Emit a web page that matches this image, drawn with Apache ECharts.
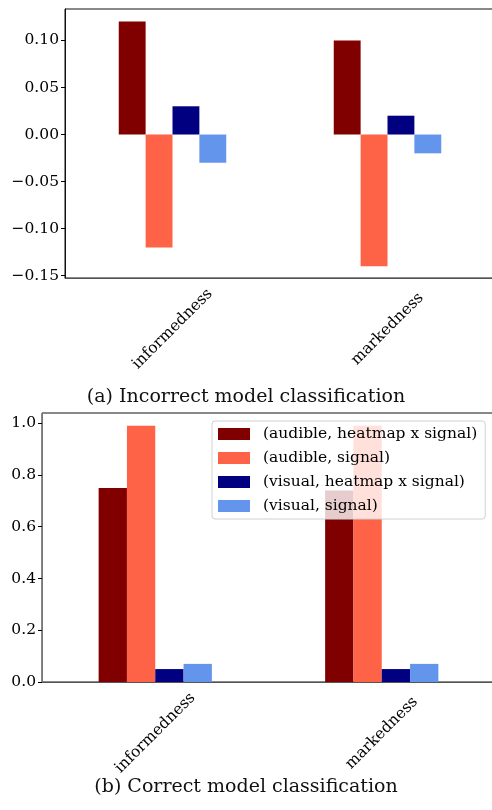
<!DOCTYPE html>
<html>
<head>
<meta charset="utf-8">
<script src="https://cdn.jsdelivr.net/npm/echarts@6/dist/echarts.min.js"></script>
<style>
html, body { margin: 0; padding: 0; background: #fff; }
#main { width: 492px; height: 810px; }
</style>
</head>
<body>
<div id="main"></div>
<script>
var categories = ['informedness', 'markedness'];
var seriesNames = ['(audible, heatmap x signal)', '(audible, signal)', '(visual, heatmap x signal)', '(visual, signal)'];
var colors = ['#800000', '#ff6347', '#000080', '#6495ed'];

// (a) incorrect model classification, one row per series
var incorrectValues = [
  [0.12, 0.10],
  [-0.12, -0.14],
  [0.03, 0.02],
  [-0.03, -0.02]
];
// (b) correct model classification
var correctValues = [
  [0.75, 0.74],
  [0.99, 0.99],
  [0.05, 0.05],
  [0.07, 0.07]
];
var incorrectTicks = [-0.15, -0.10, -0.05, 0.00, 0.05, 0.10];
var correctTicks = [0.0, 0.2, 0.4, 0.6, 0.8, 1.0];
var incorrectRange = [-0.1525, 0.1334];
var correctRange = [0, 1.0395];

var captions = ['(a) Incorrect model classification', '(b) Correct model classification'];

var FONT = 'DejaVu Serif';
var FS = 15.5;

var chart = echarts.init(document.getElementById('main'), null, { renderer: 'canvas' });

function fmtMinus(v, digits) {
  var s = Math.abs(v).toFixed(digits);
  return (v < -1e-9 ? '\u2212' : '') + s;
}

function xAxisFor(gridIndex) {
  return {
    type: 'category',
    gridIndex: gridIndex,
    data: categories,
    axisLine: { onZero: false, lineStyle: { color: '#555', width: 1 } },
    axisTick: { alignWithLabel: true, length: 4, lineStyle: { color: '#000' } },
    axisLabel: {
      rotate: 45,
      align: 'center',
      verticalAlign: 'middle',
      margin: 51,
      color: '#000',
      fontFamily: FONT,
      fontSize: FS
    }
  };
}

var series = [];
for (var i = 0; i < seriesNames.length; i++) {
  series.push({
    name: seriesNames[i],
    type: 'bar',
    xAxisIndex: 0,
    yAxisIndex: 0,
    data: incorrectValues[i],
    itemStyle: { color: colors[i] },
    barGap: '0%',
    barCategoryGap: '50%'
  });
}
for (var j = 0; j < seriesNames.length; j++) {
  series.push({
    name: seriesNames[j],
    type: 'bar',
    xAxisIndex: 1,
    yAxisIndex: 1,
    data: correctValues[j],
    itemStyle: { color: colors[j] },
    barGap: '0%',
    barCategoryGap: '50%'
  });
}

var option = {
  animation: false,
  backgroundColor: '#fff',
  color: colors,
  title: [
    {
      text: captions[0],
      left: 'center',
      top: 383,
      textStyle: { fontFamily: FONT, fontSize: 19, fontWeight: 'normal', color: '#111' }
    },
    {
      text: captions[1],
      left: 'center',
      top: 773,
      textStyle: { fontFamily: FONT, fontSize: 19, fontWeight: 'normal', color: '#111' }
    }
  ],
  legend: {
    data: seriesNames,
    orient: 'vertical',
    left: 212,
    top: 421,
    padding: [5, 8, 5, 6],
    itemWidth: 32,
    itemHeight: 12,
    itemGap: 8,
    icon: 'rect',
    backgroundColor: 'rgba(255,255,255,0.8)',
    borderColor: '#d0d0d0',
    borderWidth: 1,
    borderRadius: 3,
    selectedMode: false,
    z: 10,
    textStyle: { fontFamily: FONT, fontSize: FS, color: '#000', padding: [0, 0, 0, 8] }
  },
  // grid border gives the top spine; the right spine sits at the page edge
  grid: [
    { left: 65, right: -3, top: 9, bottom: 532, show: true, borderColor: '#111', borderWidth: 1, outerBoundsMode: 'none', containLabel: false },
    { left: 42, right: -3, top: 413, bottom: 128, show: true, borderColor: '#111', borderWidth: 1, outerBoundsMode: 'none', containLabel: false }
  ],
  xAxis: [xAxisFor(0), xAxisFor(1)],
  yAxis: [
    {
      type: 'value',
      gridIndex: 0,
      min: incorrectRange[0],
      max: incorrectRange[1],
      splitLine: { show: false },
      axisLine: { show: true, lineStyle: { color: '#111' } },
      axisTick: { show: true, length: 4, customValues: incorrectTicks, lineStyle: { color: '#000' } },
      axisLabel: {
        customValues: incorrectTicks,
        margin: 6,
        color: '#000',
        fontFamily: FONT,
        fontSize: FS,
        formatter: function (v) { return fmtMinus(v, 2); }
      }
    },
    {
      type: 'value',
      gridIndex: 1,
      min: correctRange[0],
      max: correctRange[1],
      splitLine: { show: false },
      axisLine: { show: true, lineStyle: { color: '#777' } },
      axisTick: { show: true, length: 4, customValues: correctTicks, lineStyle: { color: '#000' } },
      axisLabel: {
        customValues: correctTicks,
        margin: 6,
        color: '#000',
        fontFamily: FONT,
        fontSize: FS,
        formatter: function (v) { return v.toFixed(1); }
      }
    }
  ],
  series: series
};

chart.setOption(option);
</script>
</body>
</html>
